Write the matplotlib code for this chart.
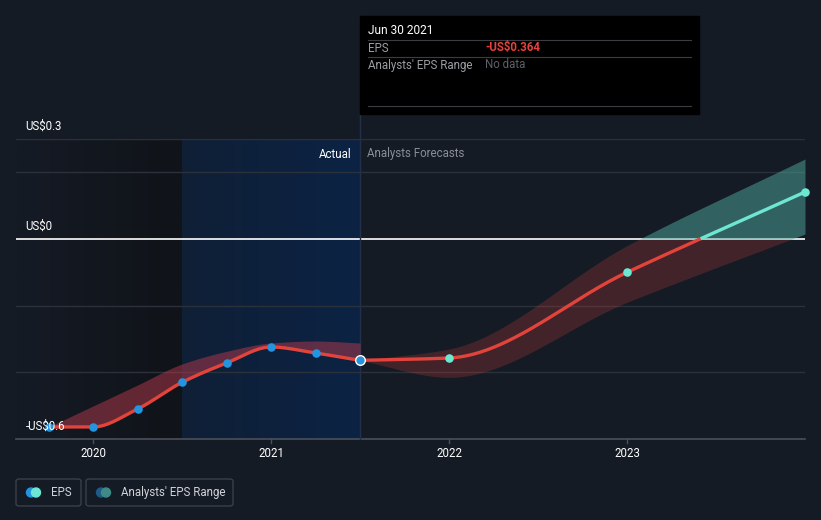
import numpy as np
import matplotlib
matplotlib.use("Agg")
import matplotlib.pyplot as plt
from matplotlib.patches import FancyBboxPatch, Rectangle, Ellipse
from matplotlib.colors import LinearSegmentedColormap

plt.rcParams["font.family"] = ["Roboto", "DejaVu Sans"]

# ----------------------------
# Data
# ----------------------------
eps_x = [2019.75, 2020.0, 2020.25, 2020.5, 2020.75, 2021.0, 2021.25, 2021.5]
eps_y = [-0.564, -0.564, -0.51, -0.43, -0.372, -0.324, -0.342, -0.364]
past_hi = [-0.564, -0.501, -0.438, -0.375, -0.337, -0.312, -0.306, -0.312]

fc_x = [2021.5, 2022.0, 2023.0, 2024.0]
fc_y = [-0.364, -0.357, -0.10, 0.141]
fc_lo = [-0.364, -0.415, -0.19, 0.015]
fc_hi = [-0.364, -0.33, -0.02, 0.24]

yticks = [0.3, 0.0, -0.6]
ytick_labels = ["US$0.3", "US$0", "-US$0.6"]
grid_vals = [0.3, 0.2, -0.2, -0.4]
xticks = [2020, 2021, 2022, 2023]

BG = "#151b25"
RED = "#e2433b"
BLUE = "#2394df"
TEAL = "#6de6d2"
W, H = 821, 520


def smooth(x, y, n=200):
    # monotone cubic (Fritsch-Carlson), only used to draw the curves
    x = np.asarray(x, float)
    y = np.asarray(y, float)
    h = np.diff(x)
    d = np.diff(y) / h
    m = np.zeros_like(y)
    m[0], m[-1] = d[0], d[-1]
    for i in range(1, len(x) - 1):
        if d[i - 1] * d[i] > 0:
            w1 = 2 * h[i] + h[i - 1]
            w2 = h[i] + 2 * h[i - 1]
            m[i] = (w1 + w2) / (w1 / d[i - 1] + w2 / d[i])
    xs = np.linspace(x[0], x[-1], n)
    idx = np.clip(np.searchsorted(x, xs) - 1, 0, len(x) - 2)
    t = (xs - x[idx]) / h[idx]
    h00 = 2 * t**3 - 3 * t**2 + 1
    h10 = t**3 - 2 * t**2 + t
    h01 = -2 * t**3 + 3 * t**2
    h11 = t**3 - t**2
    ys = h00 * y[idx] + h10 * h[idx] * m[idx] + h01 * y[idx + 1] + h11 * h[idx] * m[idx + 1]
    return xs, ys


def px(x, y):
    return x / W, 1 - y / H


fig = plt.figure(figsize=(W / 100, H / 100), dpi=100, facecolor=BG)
l, b = px(16, 439)
r, t = px(805, 139)
ax = fig.add_axes([l, b, r - l, t - b], facecolor=BG)
ax.axis("off")

# shaded past region (gradient) and "actual" highlight
grad = np.linspace(0, 1, 100).reshape(1, -1)
cm_dark = LinearSegmentedColormap.from_list("d", [BG, "#101318"])
ax.imshow(grad, extent=[2019.567, 2020.5, -0.6, 0.3], aspect="auto", cmap=cm_dark, zorder=0)
cm_blue = LinearSegmentedColormap.from_list("b", ["#0f1f36", "#0c2344"])
ax.imshow(grad, extent=[2020.5, 2021.5, -0.6, 0.3], aspect="auto", cmap=cm_blue, zorder=0)
ax.set_xlim(2019.567, 2024.0)
ax.set_ylim(-0.6, 0.3)

for g in grid_vals:
    ax.axhline(g, color="#2b313b", lw=1, zorder=1)
ax.axhline(0, color="white", lw=1.2, zorder=2)
ax.axhline(-0.6, color="#4a505a", lw=1.2, zorder=2, clip_on=False)

# past range band
sx, s_lo = smooth(eps_x, eps_y)
_, s_hi = smooth(eps_x, past_hi)
ax.fill_between(sx, s_lo, s_hi, color="#b53a4c", alpha=0.5, lw=0, zorder=3)

# forecast band, split at zero
fx, f_lo = smooth(fc_x, fc_lo)
_, f_hi = smooth(fc_x, fc_hi)
ax.fill_between(fx, np.minimum(f_lo, 0), np.minimum(f_hi, 0), color="#e2433b", alpha=0.22, lw=0, zorder=3)
ax.fill_between(fx, np.maximum(f_lo, 0), np.maximum(f_hi, 0), color="#4fa8a0", alpha=0.5, lw=0, zorder=3)

# EPS lines
ax.plot(sx, s_lo, color=RED, lw=2.4, zorder=4, solid_capstyle="round")
fxs, fys = smooth(fc_x, fc_y)
ax.plot(fxs, np.where(fys <= 0, fys, np.nan), color=RED, lw=2.4, zorder=4)
ax.plot(fxs, np.where(fys >= 0, fys, np.nan), color=TEAL, lw=2.4, zorder=4)

ax.scatter(eps_x[:-1], eps_y[:-1], s=38, color=BLUE, zorder=5, lw=0)
ax.scatter(eps_x[-1:], eps_y[-1:], s=48, color=BLUE, edgecolor="white", lw=1, zorder=6)
ax.scatter(fc_x[1:], fc_y[1:], s=38, color=TEAL, zorder=5, lw=0, clip_on=False)

# divider at forecast start
ax.plot([2021.5, 2021.5], [-0.6, 0.375], color="#23304a", lw=1, zorder=2, clip_on=False)

ax.text(2021.5 - 0.05, 0.255, "Actual", color="white", fontsize=8.3, ha="right", va="center", zorder=7)
ax.text(2021.5 + 0.04, 0.255, "Analysts Forecasts", color="#8a8f97", fontsize=8.3, ha="left", va="center", zorder=7)

# y labels sit above their gridlines
for v, lab in zip(yticks, ytick_labels):
    ax.text(2019.62, v + 0.037, lab, color="white", fontsize=8.3, ha="left", va="center", zorder=7)

# x ticks
for xt in xticks:
    ax.plot([xt, xt], [-0.6, -0.613], color="#4a505a", lw=1, clip_on=False)
    ax.text(xt, -0.642, str(xt), color="white", fontsize=8.3, ha="center", va="center")

# tooltip
tf = fig.transFigure
x0, y0 = px(360, 114)
x1, y1 = px(699, 16)
fig.patches.append(Rectangle((x0, y0), x1 - x0, y1 - y0, transform=tf, color="black", zorder=10))
for yy in [40, 57, 106]:
    a, yf = px(368, yy)
    c, _ = px(691, yy)
    fig.add_artist(plt.Line2D([a, c], [yf, yf], transform=tf, color="#3a3d42", lw=0.8, zorder=11))
fig.text(*px(368, 31), "Jun 30 2021", color="white", fontsize=8.6, va="center", zorder=12)
fig.text(*px(368, 48), "EPS", color="#9a9ea5", fontsize=8.3, va="center", zorder=12)
fig.text(*px(485, 48), "-US$0.364", color="#e8413c", fontsize=8.3, va="center", weight="bold", zorder=12)
fig.text(*px(368, 65), "Analysts' EPS Range", color="#9a9ea5", fontsize=8.3, va="center", zorder=12)
fig.text(*px(485, 65), "No data", color="#5d6168", fontsize=8.3, va="center", zorder=12)


# legend
def legend_box(xa, xb, label, c1, c2, tx):
    a, yb = px(xa, 506)
    c, yt = px(xb, 479)
    fig.patches.append(FancyBboxPatch((a, yb), c - a, yt - yb, boxstyle="round,pad=0,rounding_size=0.004",
                                      transform=tf, facecolor="none", edgecolor="#3a404a", lw=1))
    cx, cy = px(tx, 492.5)
    dx = 5 / W
    fig.add_artist(Ellipse((cx, cy), 9 / W, 9 / H, transform=tf, color=c1))
    fig.add_artist(Ellipse((cx + dx, cy), 9 / W, 9 / H, transform=tf, color=c2))
    fig.text(cx + 20 / W, cy, label, color="#d0d3d8", fontsize=8.3, va="center")


legend_box(16, 81, "EPS", BLUE, TEAL, 31)
legend_box(86, 233, "Analysts' EPS Range", "#1d5a86", "#3f8a86", 101)

fig.savefig("out.png", dpi=100, facecolor=BG)
